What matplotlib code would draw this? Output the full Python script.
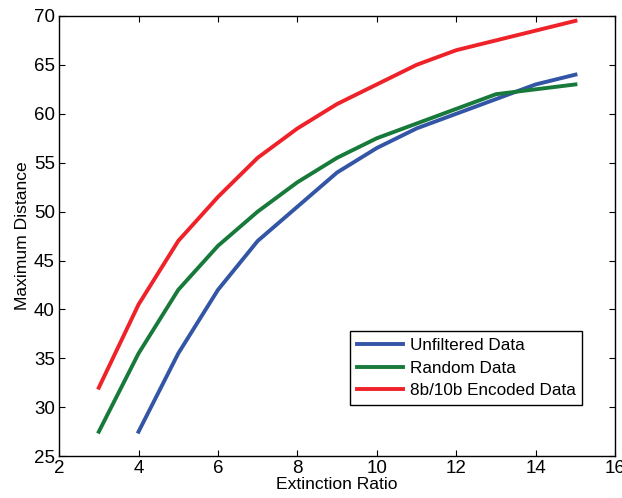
import matplotlib
matplotlib.use("Agg")
import matplotlib.pyplot as plt

plt.rcParams['font.family'] = ['Liberation Sans', 'DejaVu Sans']

x_red = [3, 4, 5, 6, 7, 8, 9, 10, 11, 12, 13, 14, 15]
y_red = [32, 40.5, 47, 51.5, 55.5, 58.5, 61, 63, 65, 66.5, 67.5, 68.5, 69.5]
x_green = [3, 4, 5, 6, 7, 8, 9, 10, 11, 12, 13, 14, 15]
y_green = [27.5, 35.5, 42, 46.5, 50, 53, 55.5, 57.5, 59, 60.5, 62, 62.5, 63]
x_blue = [4, 5, 6, 7, 8, 9, 10, 11, 12, 13, 14, 15]
y_blue = [27.5, 35.5, 42, 47, 50.5, 54, 56.5, 58.5, 60, 61.5, 63, 64]
labels = ["Unfiltered Data", "Random Data", "8b/10b Encoded Data"]

fig = plt.figure(figsize=(6.22, 4.98), dpi=100)
ax = fig.add_axes([0.095, 0.084, 0.894, 0.884])
ax.plot(x_blue, y_blue, color='#3355A5', lw=2.8, label=labels[0])
ax.plot(x_green, y_green, color='#177A3A', lw=2.8, label=labels[1])
ax.plot(x_red, y_red, color='#EE2228', lw=2.8, label=labels[2])
ax.set_xlim(2, 16)
ax.set_ylim(25, 70)
ax.set_xticks(range(2, 17, 2))
ax.set_yticks(range(25, 71, 5))
ax.tick_params(direction='in', top=True, right=True, labelsize=13.5, length=4, width=0.8, pad=3)
for s in ax.spines.values():
    s.set_linewidth(1.0)
ax.set_xlabel("Extinction Ratio", fontsize=12.6, labelpad=0)
ax.set_ylabel("Maximum Distance", fontsize=12.6, labelpad=3)
leg = ax.legend(loc='upper left', bbox_to_anchor=(0.523, 0.284), borderaxespad=0,
                fontsize=12.3, fancybox=False, framealpha=1, edgecolor='black',
                handlelength=2.7, handletextpad=0.4, labelspacing=0.45, borderpad=0.4)
leg.get_frame().set_linewidth(1.0)
fig.savefig("out.png", dpi=100)
